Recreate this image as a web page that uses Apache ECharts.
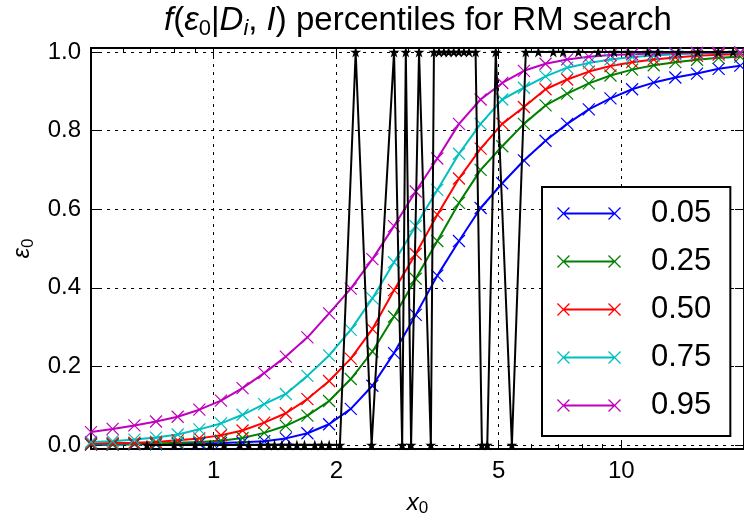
<!DOCTYPE html>
<html><head><meta charset="utf-8">
<script src="https://cdn.jsdelivr.net/npm/echarts@6/dist/echarts.min.js"></script>
<style>html,body{margin:0;padding:0;background:#fff}#c{width:744px;height:522px}</style>
</head><body><div id="c"></div>
<script>
// ---------- data ----------
const xValues = [0.500,0.565,0.639,0.722,0.816,0.922,1.042,1.177,1.330,1.503,1.698,1.919,2.169,2.451,2.769,3.130,3.537,3.997,4.517,5.104,5.768,6.518,7.365,8.323,9.406,10.63,12.01,13.57,15.34,17.33,19.59];
const p05 = [0.001,0.001,0.002,0.002,0.003,0.004,0.005,0.007,0.010,0.017,0.030,0.053,0.092,0.151,0.234,0.331,0.431,0.519,0.603,0.666,0.724,0.774,0.817,0.854,0.882,0.905,0.922,0.935,0.945,0.957,0.965];
const p25 = [0.002,0.002,0.003,0.004,0.006,0.008,0.011,0.018,0.031,0.049,0.075,0.112,0.168,0.238,0.327,0.423,0.519,0.616,0.700,0.760,0.817,0.864,0.894,0.920,0.940,0.955,0.966,0.974,0.980,0.985,0.988];
const p50 = [0.004,0.005,0.006,0.008,0.012,0.017,0.025,0.037,0.057,0.081,0.117,0.163,0.220,0.295,0.394,0.486,0.586,0.678,0.754,0.817,0.860,0.905,0.930,0.950,0.964,0.974,0.981,0.986,0.990,0.993,0.995];
const p75 = [0.008,0.010,0.014,0.019,0.027,0.040,0.055,0.077,0.104,0.130,0.176,0.228,0.293,0.373,0.465,0.557,0.649,0.741,0.817,0.879,0.909,0.938,0.960,0.972,0.981,0.987,0.991,0.994,0.996,0.997,0.998];
const p95 = [0.033,0.041,0.050,0.060,0.072,0.090,0.113,0.145,0.183,0.225,0.274,0.335,0.398,0.473,0.557,0.645,0.729,0.817,0.879,0.921,0.952,0.970,0.981,0.988,0.992,0.994,0.996,0.997,0.998,0.998,0.999];
const searchX = [0.686,0.80,0.90,0.98,1.06,1.16,1.22,1.30,1.36,1.41,1.47,1.53,1.60,1.67,1.77,1.84,1.92,2.04,2.23,2.44,2.77,2.90,2.96,3.05,3.19,3.41,3.47,3.57,3.67,3.77,3.88,3.99,4.11,4.23,4.39,4.55,4.69,4.92,5.39,5.83,6.26,6.81,7.20,7.85,8.78,9.60,10.4,11.6,12.3,13.8,15.4,17.3,18.8];
const searchY = [0,0,0,0,0,0,0,0,0,0,0,0,0,0,0,0,0,0,1,0,1,0,1,0,1,0,1,1,1,1,1,1,1,1,1,0,0,1,0,1,1,1,1,1,1,1,1,1,1,1,1,1,1];
const seriesNames = ['0.05','0.25','0.50','0.75','0.95'];
const seriesColors = ['#0000ff','#008000','#ff0000','#00bfbf','#bf00bf'];
const xMajorTicks = [1,2,5,10];
const xMinorTicks = [0.6,0.7,0.8,0.9,3,4,6,7,8,9,20];
const yTicks = [0,0.2,0.4,0.6,0.8,1.0];

// ---------- chart ----------
const font = 'Liberation Sans, Arial, Helvetica, sans-serif';
const xMark = 'path://M0 0L10 10M10 0L0 10';
const star = 'path://M0,-1L0.224,-0.309L0.951,-0.309L0.363,0.118L0.588,0.809L0,0.382L-0.588,0.809L-0.363,0.118L-0.951,-0.309L-0.224,-0.309Z';
const legendIcon = 'path://M0.05 0.95L0.95 0.05L12.95 12.05L12.05 12.95Z M0.05 12.05L12.05 0.05L12.95 0.95L0.95 12.95Z M6.5 5.5L57.5 5.5L57.5 7.5L6.5 7.5Z M51.05 0.95L51.95 0.05L63.95 12.05L63.05 12.95Z M51.05 12.05L63.05 0.05L63.95 0.95L51.95 12.95Z';
const pData = [p05,p25,p50,p75,p95];

const grid = {left:91, top:48, width:655, height:406};
const dotted = {show:true, lineStyle:{color:'#000', width:1, type:[3,5]}};
function xAxisDef(pos, ticks, len, opts) {
  return Object.assign({
    type:'log', logBase:10, min:0.5, max:20, position:pos,
    axisLine:{show:true, onZero:false, lineStyle:{color:'#000', width:2}},
    axisTick:{show:true, inside:true, length:len, customValues:ticks, lineStyle:{color:'#000', width:1}},
    axisLabel:{show:false}, splitLine:{show:false}
  }, opts||{});
}
function yAxisDef(pos, opts) {
  return Object.assign({
    type:'value', min:-0.01, max:1.01, position:pos,
    axisLine:{show:true, onZero:false, lineStyle:{color:'#000', width:2}},
    axisTick:{show:true, inside:true, length:9, customValues:yTicks, lineStyle:{color:'#000', width:1}},
    axisLabel:{show:false}, splitLine:{show:false}
  }, opts||{});
}

const series = pData.map((d,k) => ({
  name: seriesNames[k], type:'line', xAxisIndex:0, yAxisIndex:0,
  data: xValues.map((x,i) => [x, d[i]]),
  symbol: xMark, symbolSize: 12, showAllSymbol:true,
  lineStyle:{color:seriesColors[k], width:2},
  itemStyle:{color:seriesColors[k], borderColor:seriesColors[k], borderWidth:1.2},
  emphasis:{disabled:true}, animation:false, z:3
}));
series.push({
  name:'search', type:'line', xAxisIndex:0, yAxisIndex:0,
  data: searchX.map((x,i) => [x, searchY[i]]),
  symbol: star, symbolSize: 11, showAllSymbol:true,
  lineStyle:{color:'#000', width:2},
  itemStyle:{color:'#000'},
  emphasis:{disabled:true}, animation:false, z:4
});

const T = (extra) => Object.assign({fontSize:33, fontFamily:font, fontWeight:'normal', color:'#000', lineHeight:38}, extra||{});
const chart = echarts.init(document.getElementById('c'), null, {renderer:'canvas'});
chart.setOption({
  animation:false,
  backgroundColor:'#fff',
  textStyle:{fontFamily:font},
  title:{
    left:418, top:2, textAlign:'center', padding:0,
    text:'{i|f}{n|(}{i|ε}{s|0}{n||}{i|D}{si|i}{n|, }{i|I}{n|) percentiles for RM search}',
    textStyle:{
      fontWeight:'normal',
      rich:{
        n:T(), i:T({fontStyle:'italic'}),
        s:T({fontSize:22, lineHeight:16, verticalAlign:'bottom'}),
        si:T({fontSize:22, lineHeight:16, verticalAlign:'bottom', fontStyle:'italic'})
      }
    }
  },
  grid: grid,
  legend:{
    data: seriesNames,
    orient:'vertical', left:542, top:187,
    padding:[11,19,15,15],
    itemWidth:64, itemHeight:13, itemGap:17,
    icon: legendIcon,
    itemStyle:{borderWidth:0},
    backgroundColor:'#fff', borderColor:'#000', borderWidth:2, borderRadius:0,
    textStyle:{fontSize:31, fontFamily:font, color:'#000', lineHeight:31, padding:[0,0,0,25]},
    selectedMode:false
  },
  xAxis:[
    xAxisDef('bottom', xMajorTicks, 9, {
      axisLabel:{show:true, customValues:xMajorTicks, fontSize:24, fontFamily:font, color:'#000', margin:10, formatter: v => String(v)},
      splitLine: dotted,
      name:'{i|x}{s|0}', nameLocation:'middle', nameGap:40,
      nameTextStyle:{rich:{
        i:{fontSize:24, fontFamily:font, fontStyle:'italic', color:'#000', lineHeight:28},
        s:{fontSize:17, fontFamily:font, color:'#000', lineHeight:12, verticalAlign:'bottom'}
      }}
    }),
    xAxisDef('bottom', xMinorTicks, 5),
    xAxisDef('top', xMajorTicks, 9),
    xAxisDef('top', xMinorTicks, 5)
  ],
  yAxis:[
    yAxisDef('left', {
      axisLabel:{show:true, customValues:yTicks, fontSize:24, fontFamily:font, color:'#000', margin:10, formatter: v => v.toFixed(1)},
      splitLine: dotted,
      name:'{i|ε}{s|0}', nameLocation:'middle', nameGap:46, nameRotate:90,
      nameTextStyle:{rich:{
        i:{fontSize:24, fontFamily:font, fontStyle:'italic', color:'#000', lineHeight:28},
        s:{fontSize:17, fontFamily:font, color:'#000', lineHeight:12, verticalAlign:'bottom'}
      }}
    }),
    yAxisDef('right')
  ],
  series: series
});
</script>
</body></html>
